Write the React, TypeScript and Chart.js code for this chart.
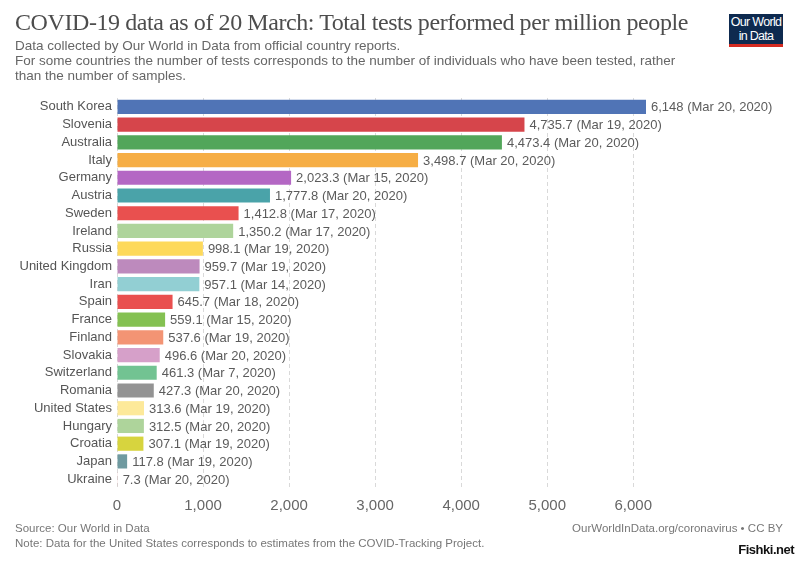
import React, { useEffect, useRef } from "react";
import { Chart, registerables } from "chart.js";

Chart.register(...registerables);

const countries = [
  "South Korea", "Slovenia", "Australia", "Italy", "Germany", "Austria", "Sweden", "Ireland",
  "Russia", "United Kingdom", "Iran", "Spain", "France", "Finland", "Slovakia", "Switzerland",
  "Romania", "United States", "Hungary", "Croatia", "Japan", "Ukraine",
];
const testsPerMillion = [
  6148, 4735.7, 4473.4, 3498.7, 2023.3, 1777.8, 1412.8, 1350.2, 998.1, 959.7, 957.1, 645.7,
  559.1, 537.6, 496.6, 461.3, 427.3, 313.6, 312.5, 307.1, 117.8, 7.3,
];
const valueLabels = [
  "6,148", "4,735.7", "4,473.4", "3,498.7", "2,023.3", "1,777.8", "1,412.8", "1,350.2",
  "998.1", "959.7", "957.1", "645.7", "559.1", "537.6", "496.6", "461.3", "427.3", "313.6",
  "312.5", "307.1", "117.8", "7.3",
];
const dates = [
  "Mar 20, 2020", "Mar 19, 2020", "Mar 20, 2020", "Mar 20, 2020", "Mar 15, 2020", "Mar 20, 2020",
  "Mar 17, 2020", "Mar 17, 2020", "Mar 19, 2020", "Mar 19, 2020", "Mar 14, 2020", "Mar 18, 2020",
  "Mar 15, 2020", "Mar 19, 2020", "Mar 20, 2020", "Mar 7, 2020", "Mar 20, 2020", "Mar 19, 2020",
  "Mar 20, 2020", "Mar 19, 2020", "Mar 19, 2020", "Mar 20, 2020",
];
const barColors = [
  "#5074b6", "#d6454b", "#52a65a", "#f6ae45", "#b467c4", "#4aa3a9", "#e9504f", "#aed49b",
  "#fdd95b", "#bd8abd", "#92cfd3", "#e9504f", "#84c152", "#f39474", "#d6a0c9", "#72c392",
  "#939393", "#fde99a", "#aed49b", "#d7d43e", "#6f9aa0", "#d88a8a",
];
const xTicks = [0, 1000, 2000, 3000, 4000, 5000, 6000];
const xMax = 6148;

const SANS = "'Liberation Sans', Arial, sans-serif";

const labelPlugin = {
  id: "valueLabels",
  afterDatasetsDraw(chart: any) {
    const ctx = chart.ctx;
    const meta = chart.getDatasetMeta(0);
    ctx.save();
    ctx.font = `13px ${SANS}`;
    ctx.fillStyle = "#5b5b5b";
    ctx.textBaseline = "middle";
    ctx.textAlign = "left";
    meta.data.forEach((bar: any, i: number) => {
      ctx.fillText(`${valueLabels[i]} (${dates[i]})`, bar.x + 5, bar.y + 1);
    });
    ctx.restore();
  },
};

export default function App() {
  const ref = useRef<HTMLCanvasElement>(null);
  useEffect(() => {
    if (!ref.current) return;
    const chart = new Chart(ref.current, {
      type: "bar",
      data: {
        labels: countries,
        datasets: [
          {
            data: testsPerMillion,
            backgroundColor: barColors,
            borderWidth: 0,
            barPercentage: 0.8,
            categoryPercentage: 1,
          },
        ],
      },
      plugins: [labelPlugin],
      options: {
        indexAxis: "y",
        animation: false,
        responsive: false,
        maintainAspectRatio: false,
        layout: { padding: { top: 98, right: 154, bottom: 46, left: 0 } },
        plugins: { legend: { display: false }, tooltip: { enabled: false } },
        scales: {
          x: {
            min: 0,
            max: xMax,
            afterBuildTicks: (scale: any) => {
              scale.ticks = xTicks.map((v) => ({ value: v }));
            },
            afterFit: (scale: any) => {
              scale.height = 30;
            },
            grid: {
              color: "#d9d9d9",
              drawTicks: false,
            },
            border: { display: false, dash: [4, 3] },
            ticks: {
              color: "#666",
              font: { family: SANS, size: 15 },
              padding: 9,
              callback: (v: any) => Number(v).toLocaleString("en-US"),
            },
          },
          y: {
            afterFit: (scale: any) => {
              scale.width = 117;
            },
            grid: { display: false, drawTicks: false },
            border: { display: false },
            ticks: {
              color: "#555",
              font: { family: SANS, size: 13 },
              padding: 5,
              autoSkip: false,
            },
          },
        },
      },
    });
    return () => chart.destroy();
  }, []);

  const abs = (s: React.CSSProperties): React.CSSProperties => ({ position: "absolute", whiteSpace: "nowrap", ...s });

  return (
    <div style={{ position: "fixed", left: 0, top: 0, width: 800, height: 564, background: "#fff", overflow: "hidden" }}>
      <canvas ref={ref} width={800} height={564} style={{ position: "absolute", left: 0, top: 0, width: 800, height: 564 }} />
      <div style={abs({ left: 15, top: 9, fontFamily: "'Liberation Serif', 'DejaVu Serif', serif", fontSize: 24, color: "#4d4d4d", letterSpacing: -0.42 })}>
        COVID-19 data as of 20 March: Total tests performed per million people
      </div>
      <div style={abs({ left: 15, top: 38, fontFamily: SANS, fontSize: 13.5, lineHeight: "15px", color: "#666" })}>
        Data collected by Our World in Data from official country reports.
        <br />
        For some countries the number of tests corresponds to the number of individuals who have been tested, rather
        <br />
        than the number of samples.
      </div>
      <div style={abs({ left: 729, top: 14, width: 54, height: 29, background: "#0e2a4f", borderBottom: "3px solid #d42b21", color: "#fff", fontFamily: SANS, fontSize: 12.5, lineHeight: "14px", textAlign: "center", letterSpacing: -0.7, paddingTop: 1, boxSizing: "content-box" })}>
        Our World
        <br />
        in Data
      </div>
      <div style={abs({ left: 15, top: 521, fontFamily: SANS, fontSize: 11.5, lineHeight: "15px", color: "#777" })}>
        Source: Our World in Data
        <br />
        Note: Data for the United States corresponds to estimates from the COVID-Tracking Project.
      </div>
      <div style={abs({ right: 17, top: 521, fontFamily: SANS, fontSize: 11.5, lineHeight: "15px", color: "#777" })}>
        OurWorldInData.org/coronavirus • CC BY
      </div>
      <div style={abs({ right: 6, top: 542, fontFamily: SANS, fontSize: 13, fontWeight: "bold", color: "#111", letterSpacing: -0.5, textShadow: "0 0 2px #fff" })}>
        Fishki.net
      </div>
    </div>
  );
}
